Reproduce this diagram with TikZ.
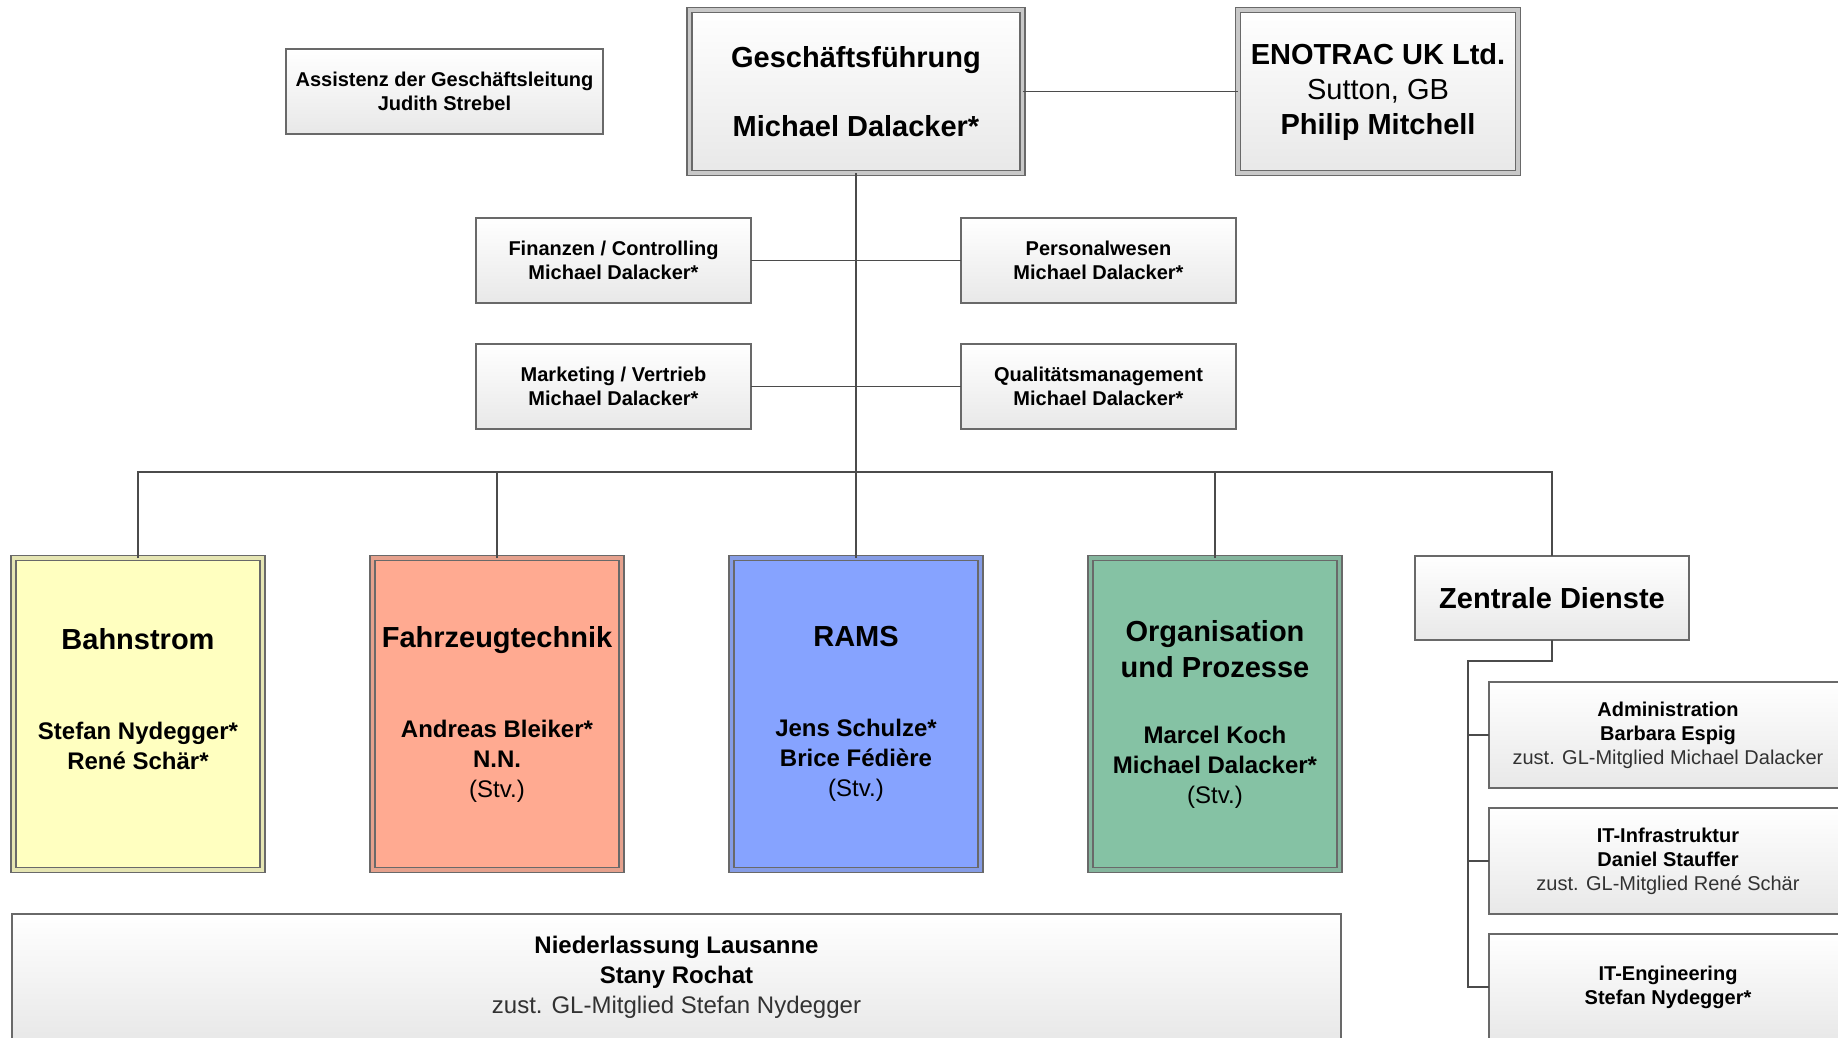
\documentclass[tikz,border=0pt]{standalone}
\usepackage{fontspec}
\setmainfont{Liberation Sans}
\usepackage{tikz}
\usetikzlibrary{positioning}

\definecolor{framegray}{RGB}{105,105,105}
\definecolor{wiregray}{RGB}{75,75,75}
\definecolor{shadegray}{RGB}{232,232,232}
\definecolor{gapgray}{RGB}{200,200,200}
\definecolor{textgray}{RGB}{50,50,50}
\definecolor{bahncol}{RGB}{255,255,192}
\definecolor{fztcol}{RGB}{255,170,145}
\definecolor{ramscol}{RGB}{134,163,255}
\definecolor{orgcol}{RGB}{133,194,164}

\newcommand{\szbig}{\fontsize{29}{35}\selectfont}
\newcommand{\szmid}{\fontsize{24}{30}\selectfont}
\newcommand{\szsmall}{\fontsize{20}{24}\selectfont}

\tikzset{
  x=1pt, y=-1pt,
  every node/.style={align=center, inner sep=0pt, outer sep=0pt},
  unit/.style={draw=framegray, line width=1.2pt, top color=white, bottom color=shadegray,
    minimum width=275pt, minimum height=85pt, font=\bfseries\szsmall},
  head/.style={unit, line width=1.3pt, double=gapgray, double distance=3.7pt,
    minimum width=333pt, minimum height=163pt, font=\bfseries\szbig},
  dept/.style={draw=framegray, line width=1.3pt, fill=#1, double=#1!80!gray,
    double distance=3.7pt, minimum width=249pt, minimum height=312pt, font=\bfseries\szmid},
  link/.style={draw=wiregray, line width=1.3pt},
}

\begin{document}
\begin{tikzpicture}
    \useasboundingbox (0,0) rectangle (1838,1037);
    \clip (0,0) rectangle (1838,1037);

    % management
    \node[head] (gf) at (856,91.5) {Geschäftsführung\\[34pt]Michael Dalacker*};
    \node[head, minimum width=280pt] (uk) at (1378,91.5) {ENOTRAC UK Ltd.\\{\mdseries Sutton, GB}\\Philip Mitchell};
    \node[unit, minimum width=317pt] (assist) at (444.5,91.5) {Assistenz der Geschäftsleitung\\Judith Strebel};

    % staff units
    \node[unit] (fin) at (613.5,260.5) {Finanzen / Controlling\\Michael Dalacker*};
    \node[unit, right=210pt of fin] (pers) {Personalwesen\\Michael Dalacker*};
    \node[unit, below=41pt of fin] (mkt) {Marketing / Vertrieb\\Michael Dalacker*};
    \node[unit, below=41pt of pers] (qm) {Qualitätsmanagement\\Michael Dalacker*};

    % divisions
    \node[dept=bahncol] (bahn) at (138,714) {{\szbig Bahnstrom}\\[60pt]Stefan Nydegger*\\René Schär*\\\mbox{}};
    \node[dept=fztcol, right=110pt of bahn] (fzt) {{\szbig Fahrzeugtechnik}\\[60pt]Andreas Bleiker*\\N.N.\\{\mdseries(Stv.)}};
    \node[dept=ramscol, right=110pt of fzt] (rams) {{\szbig RAMS}\\[60pt]Jens Schulze*\\Brice Fédière\\{\mdseries(Stv.)}};
    \node[dept=orgcol, right=110pt of rams] (org) {{\szbig Organisation}\\[6pt]{\szbig und Prozesse}\\[36pt]Marcel Koch\\Michael Dalacker*\\{\mdseries(Stv.)}};
    \node[unit, minimum width=274pt, minimum height=84pt, font=\bfseries\szbig] (zd) at (1552,598) {Zentrale Dienste};

    % central services
    \node[unit, minimum width=358pt, minimum height=106pt] (adm) at (1668,735) {Administration\\Barbara Espig\\{\mdseries\color{textgray}zust. GL-Mitglied Michael Dalacker}};
    \node[unit, minimum width=358pt, minimum height=106pt, below=20pt of adm] (itinf) {IT-Infrastruktur\\Daniel Stauffer\\{\mdseries\color{textgray}zust. GL-Mitglied René Schär}};
    \node[unit, minimum width=358pt, minimum height=106pt, below=20pt of itinf] (iteng) {IT-Engineering\\Stefan Nydegger*};

    % branch office
    \node[unit, minimum width=1329pt, minimum height=126pt, font=\bfseries\szmid] (nl) at (676.5,977) {Niederlassung Lausanne\\Stany Rochat\\{\mdseries\color{textgray}zust. GL-Mitglied Stefan Nydegger}};

    % lines
    \coordinate (bus) at (856,472);
    \coordinate (zdknee) at (1468,661);
    \draw[link] (gf) -- (uk);
    \draw[link] (gf) -- (rams);
    \draw[link] (fin) -- (pers);
    \draw[link] (mkt) -- (qm);
    \draw[link] (bahn.north) |- (bus) -| (zd.north);
    \draw[link] (fzt.north) -- (fzt.north |- bus);
    \draw[link] (org.north) -- (org.north |- bus);
    \draw[link] (zd.south) |- (zdknee) |- (iteng.west);
    \draw[link] (zdknee |- adm.west) -- (adm.west);
    \draw[link] (zdknee |- itinf.west) -- (itinf.west);

\end{tikzpicture}
\end{document}
